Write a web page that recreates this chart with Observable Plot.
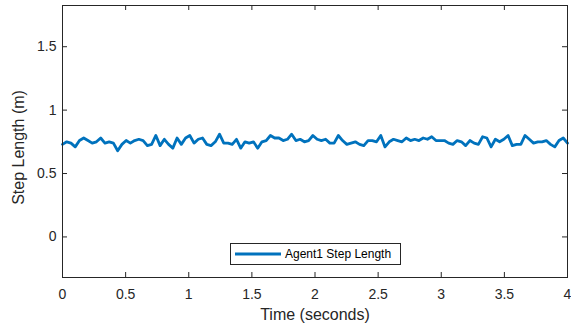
<!DOCTYPE html>
<html>
<head>
<meta charset="utf-8">
<script src="https://cdn.jsdelivr.net/npm/d3@7"></script>
<script src="https://cdn.jsdelivr.net/npm/@observablehq/plot@0.6"></script>
<style>
  body { margin: 0; background: #fff; }
  #wrap { position: relative; width: 571px; height: 329px; font-family: "Liberation Sans", Arial, Helvetica, sans-serif; }
  #legend { position: absolute; left: 230px; top: 243px; width: 171px; height: 22px; box-sizing: border-box;
            border: 1px solid #262626; background: #fff; display: flex; align-items: center; font-size: 12px; color: #000; }
  #legend svg { display: block; margin-left: 4px; margin-right: 4px; }
</style>
</head>
<body>
<div id="wrap">
  <div id="chart"></div>
  <div id="legend"></div>
</div>
<script>
const seriesName = "Agent1 Step Length";
const xLabel = "Time (seconds)";
const yLabel = "Step Length (m)";
const timeStart = 0;
const timeEnd = 4;
const stepLength = [
  0.73, 0.75, 0.74, 0.71, 0.76, 0.78, 0.76, 0.74, 0.75, 0.78,
  0.74, 0.75, 0.74, 0.68, 0.73, 0.76, 0.74, 0.76, 0.77, 0.76,
  0.72, 0.73, 0.80, 0.72, 0.77, 0.73, 0.70, 0.78, 0.73, 0.78,
  0.80, 0.74, 0.77, 0.78, 0.73, 0.72, 0.75, 0.81, 0.74, 0.74,
  0.73, 0.77, 0.70, 0.75, 0.74, 0.75, 0.70, 0.75, 0.76, 0.80,
  0.78, 0.78, 0.76, 0.77, 0.81, 0.76, 0.77, 0.75, 0.76, 0.80,
  0.77, 0.76, 0.77, 0.74, 0.74, 0.80, 0.76, 0.73, 0.74, 0.75,
  0.73, 0.72, 0.76, 0.76, 0.75, 0.80, 0.71, 0.75, 0.77, 0.76,
  0.75, 0.78, 0.76, 0.77, 0.76, 0.78, 0.77, 0.79, 0.76, 0.76,
  0.76, 0.74, 0.73, 0.76, 0.75, 0.72, 0.76, 0.74, 0.73, 0.79,
  0.78, 0.71, 0.77, 0.75, 0.77, 0.80, 0.72, 0.73, 0.73, 0.80,
  0.77, 0.74, 0.75, 0.75, 0.76, 0.73, 0.71, 0.76, 0.78, 0.74
];
const xTicks = [0, 0.5, 1, 1.5, 2, 2.5, 3, 3.5, 4];
const xTickLabels = ["0", "0.5", "1", "1.5", "2", "2.5", "3", "3.5", "4"];
const yTicks = [0, 0.5, 1, 1.5];
const yTickLabels = ["0", "0.5", "1", "1.5"];
const yDomain = [-0.32, 1.825];

const n = stepLength.length;
const data = stepLength.map((v, i) => ({t: timeStart + i * (timeEnd - timeStart) / (n - 1), v}));

const W = 571, H = 329, mL = 62, mR = 4, mT = 5, mB = 52;
const innerW = W - mL - mR, innerH = H - mT - mB;
const tickLen = 5;
const axisColor = "#262626";
const lineColor = "#0072BD";

const chart = Plot.plot({
  width: W, height: H,
  marginLeft: mL, marginRight: mR, marginTop: mT, marginBottom: mB,
  style: {fontFamily: '"Liberation Sans", Arial, Helvetica, sans-serif', fontSize: "14px", color: axisColor, background: "#fff"},
  x: {domain: [timeStart, timeEnd]},
  y: {domain: yDomain},
  marks: [
    Plot.line(data, {x: "t", y: "v", stroke: lineColor, strokeWidth: 2.8, strokeLinejoin: "round"}),
    Plot.frame({stroke: axisColor, strokeWidth: 1}),
    Plot.tickX(xTicks, {x: d => d, insetTop: innerH - tickLen, stroke: axisColor}),
    Plot.tickX(xTicks, {x: d => d, insetBottom: innerH - tickLen, stroke: axisColor}),
    Plot.tickY(yTicks, {y: d => d, insetRight: innerW - tickLen, stroke: axisColor}),
    Plot.tickY(yTicks, {y: d => d, insetLeft: innerW - tickLen, stroke: axisColor}),
    Plot.axisX({ticks: xTicks, tickSize: 0, tickPadding: 12, tickFormat: (d, i) => xTickLabels[i], label: null, fontSize: 14}),
    Plot.axisY({ticks: yTicks, tickSize: 0, tickPadding: 6, tickFormat: (d, i) => yTickLabels[i], label: null, fontSize: 14}),
    Plot.text([xLabel], {frameAnchor: "bottom", dy: 42, fontSize: 16, fill: axisColor, textAnchor: "middle"}),
    Plot.text([yLabel], {frameAnchor: "left", dx: -44, dy: 6, rotate: -90, fontSize: 16, fill: axisColor, textAnchor: "middle"})
  ]
});
document.getElementById("chart").appendChild(chart);

const legend = document.getElementById("legend");
legend.innerHTML = `<svg width="46" height="6"><line x1="0" y1="3" x2="46" y2="3" stroke="${lineColor}" stroke-width="2.8"/></svg><span>${seriesName}</span>`;
</script>
</body>
</html>
